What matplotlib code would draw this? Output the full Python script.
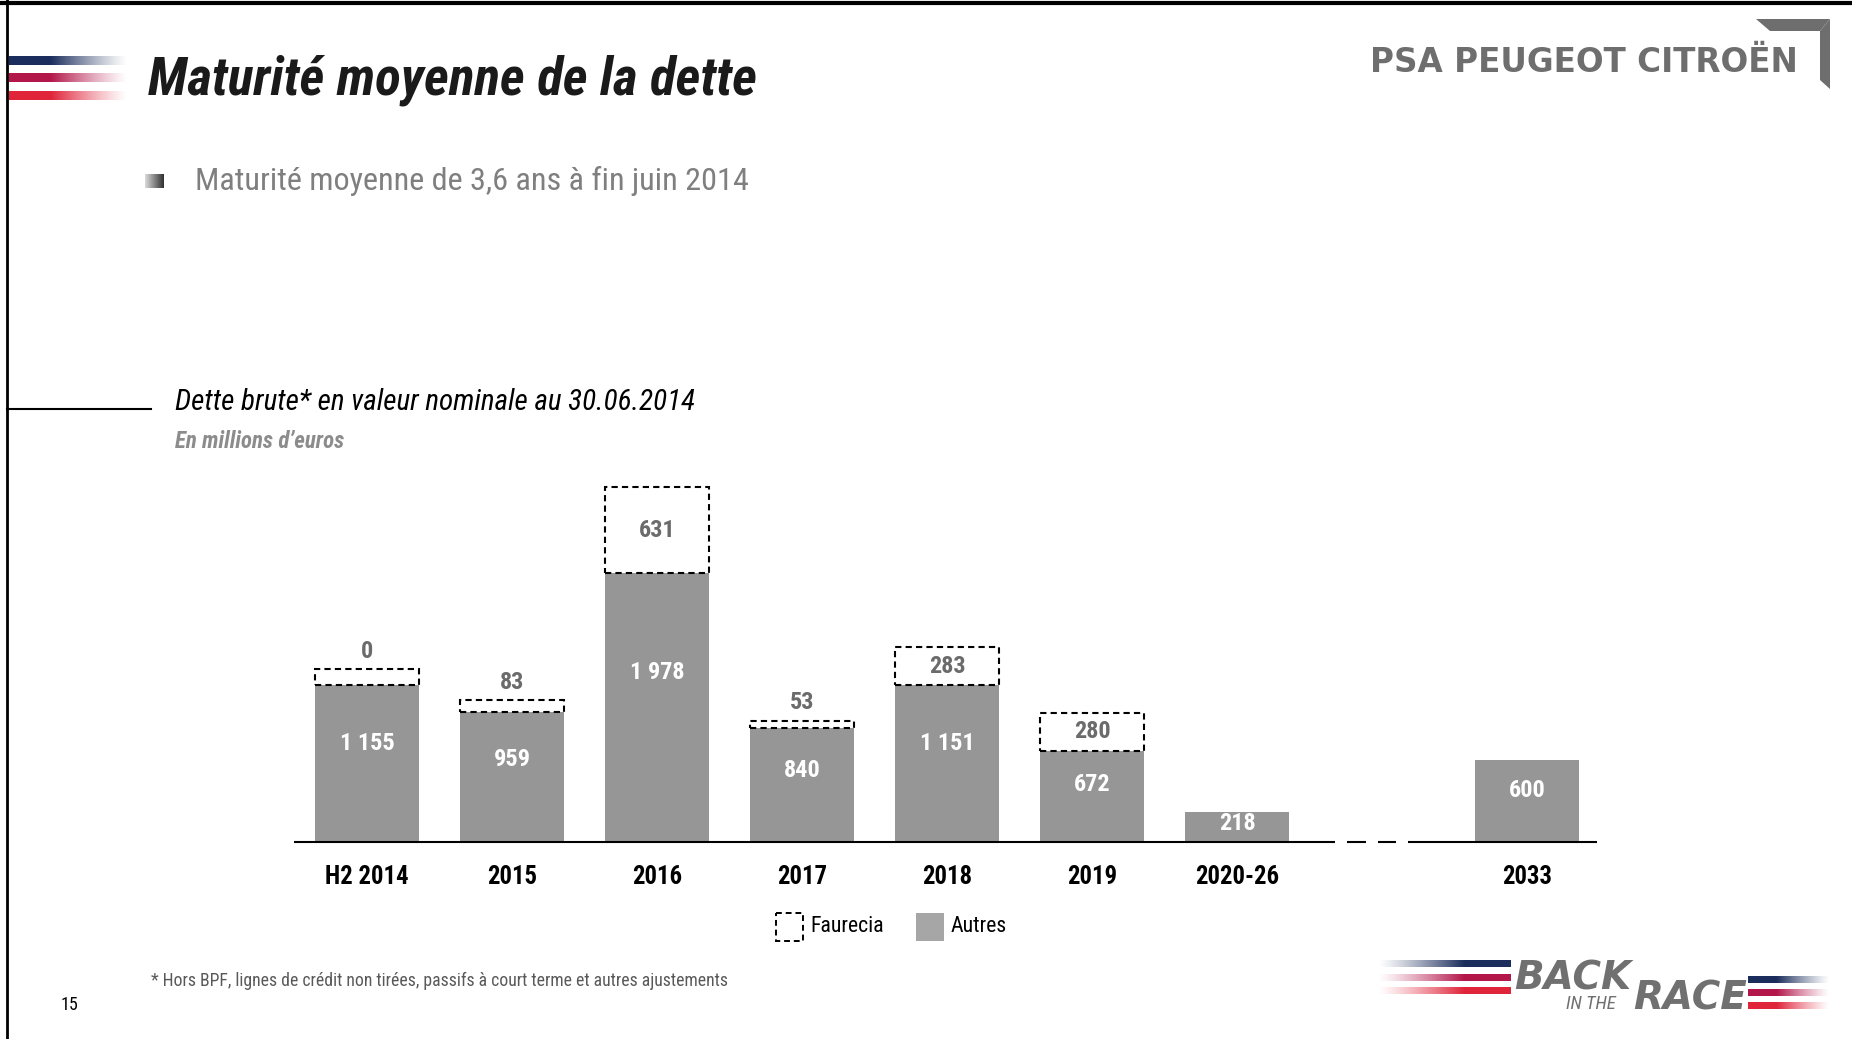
import matplotlib
matplotlib.use("Agg")
import matplotlib.pyplot as plt
import numpy as np
from matplotlib.colors import to_rgb
from matplotlib.patches import Polygon, Rectangle

NARROW = ["Roboto Condensed", "Liberation Sans Narrow", "Liberation Sans", "DejaVu Sans"]
plt.rcParams["font.family"] = NARROW

categories = ["H2 2014", "2015", "2016", "2017", "2018", "2019", "2020-26", "2033"]
autres = [1155, 959, 1978, 840, 1151, 672, 218, 600]
faurecia = [0, 83, 631, 53, 283, 280, np.nan, np.nan]

BAR_GREY = "#969696"
LABEL_GREY = "#6b6b6b"
STRIPES = ["#1a2d5c", "#b3174a", "#e0243a"]
W, H = 1852, 1039

fig = plt.figure(figsize=(W / 100, H / 100), dpi=100)

# full-page axes in pixel units for the slide decorations
bg = fig.add_axes([0, 0, 1, 1])
bg.set_xlim(0, W)
bg.set_ylim(H, 0)
bg.axis("off")


def stripe(x0, x1, y, h, color, dark_side="left"):
    r, g, b = to_rgb(color)
    t = np.linspace(0, 1, 80)
    alpha = np.clip((1 - t) / 0.65, 0, 1) ** 1.2
    if dark_side == "right":
        alpha = alpha[::-1]
    img = np.zeros((1, 80, 4))
    img[0, :, 0], img[0, :, 1], img[0, :, 2] = r, g, b
    img[0, :, 3] = alpha
    bg.imshow(img, extent=(x0, x1, y + h / 2, y - h / 2), aspect="auto",
              interpolation="bilinear", zorder=2)


# frame
bg.plot([0, W], [3, 3], color="black", lw=3)
bg.plot([7, 7], [0, H], color="black", lw=2)

# header stripes
for yy, col in zip([61, 78, 96], STRIPES):
    stripe(9, 128, yy, 9, col)

bg.text(148, 80, "Maturité moyenne de la dette", fontsize=38.5, fontweight="bold",
        fontstyle="italic", color="#1a1a1a", va="center", ha="left")

# bullet
grad = np.linspace(0.85, 0.2, 32)
bg.imshow(np.tile(grad, (2, 1)), cmap="gray", vmin=0, vmax=1,
          extent=(145, 164, 188, 174), aspect="auto", zorder=2)
bg.text(195, 181, "Maturité moyenne de 3,6 ans à fin juin 2014", fontsize=23.2,
        color="#7f7f7f", va="center", ha="left")

# PSA logo
bg.text(1798, 62, "PSA PEUGEOT CITROËN", fontsize=23.5, fontweight="bold",
        color="#6e6e6e", va="center", ha="right", family="DejaVu Sans")
bg.add_patch(Polygon([(1756, 19), (1830, 19), (1820, 31), (1770, 31)],
                     closed=True, color="#6e6e6e", lw=0))
bg.add_patch(Polygon([(1820, 31), (1830, 19), (1830, 89), (1820, 80)],
                     closed=True, color="#6e6e6e", lw=0))

# chart heading
bg.plot([7, 151], [409, 409], color="black", lw=1.5)
bg.text(175, 402, "Dette brute* en valeur nominale au 30.06.2014", fontsize=21,
        fontstyle="italic", color="black", va="center", ha="left")
bg.text(175, 442, "En millions d’euros", fontsize=16.5, fontweight="bold",
        fontstyle="italic", color="#8c8c8c", va="center", ha="left")

# legend
bg.add_patch(Rectangle((776, 913), 27, 28, facecolor="white", edgecolor="black",
                       lw=1.4, linestyle=(0, (3, 2))))
bg.text(810, 927, "Faurecia", fontsize=15.7, color="black", va="center", ha="left")
bg.add_patch(Rectangle((916, 913), 28, 28, facecolor="#a6a6a6", lw=0))
bg.text(951, 927, "Autres", fontsize=15.7, color="black", va="center", ha="left")

# footer
bg.text(151, 981, "* Hors BPF, lignes de crédit non tirées, passifs à court terme et autres ajustements",
        fontsize=12.7, color="#595959", va="center", ha="left")
bg.text(61, 1005, "15", fontsize=13, color="black", va="center", ha="left")

# Back in the race logo
for yy, col in zip([964, 978, 991], STRIPES):
    stripe(1378, 1511, yy, 7, col, dark_side="right")
for yy, col in zip([980, 993, 1006], STRIPES):
    stripe(1748, 1830, yy, 7, col)
bg.text(1514, 978, "BACK", fontsize=28, fontweight="bold", fontstyle="italic",
        color="#707070", va="center", ha="left", family="DejaVu Sans")
bg.text(1566, 1004, "IN THE", fontsize=13.5, fontstyle="italic",
        color="#707070", va="center", ha="left")
bg.text(1633, 998, "RACE", fontsize=28, fontweight="bold", fontstyle="italic",
        color="#707070", va="center", ha="left", family="DejaVu Sans")

# bar chart
x = np.arange(len(categories), dtype=float)
x[-1] += 1  # break before 2033
autres = np.array(autres, dtype=float)
faurecia = np.array(faurecia, dtype=float)

ax = fig.add_axes([294 / W, 197 / H, 1303 / W, 408 / H])
ax.set_xlim(-0.503, 8.483)
ax.set_ylim(0, 3000)
ax.axis("off")
ax.patch.set_alpha(0)

bw = 0.72
ax.bar(x, autres, width=bw, color=BAR_GREY, lw=0, zorder=2)

has_f = ~np.isnan(faurecia)
f_draw = np.where(faurecia[has_f] == 0, 115, faurecia[has_f])
ax.bar(x[has_f], f_draw, width=bw, bottom=autres[has_f], facecolor="white",
       edgecolor="black", lw=1.5, linestyle=(0, (3, 2)), zorder=3)

for xi, a in zip(x, autres):
    ax.text(xi, a * 0.63, f"{int(a):,}".replace(",", " "), fontsize=17.5,
            fontweight="bold", color="white", ha="center", va="center", zorder=4)

for xi, a, f, fd in zip(x[has_f], autres[has_f], faurecia[has_f], f_draw):
    if f >= 200:
        ax.text(xi, a + fd / 2, f"{int(f)}", fontsize=17.5, fontweight="bold",
                color=LABEL_GREY, ha="center", va="center", zorder=4)
    else:
        ax.annotate(f"{int(f)}", (xi, a + fd), xytext=(0, 13), textcoords="offset points",
                    fontsize=17.5, fontweight="bold", color=LABEL_GREY,
                    ha="center", va="center", zorder=4)

# baseline with break marks
for x0, x1 in [(-0.503, 6.676), (6.76, 6.89), (6.97, 7.10), (7.18, 8.483)]:
    ax.plot([x0, x1], [0, 0], color="black", lw=1.5, solid_capstyle="butt",
            clip_on=False, zorder=5)

for xi, cat in zip(x, categories):
    ax.annotate(cat, (xi, 0), xytext=(0, -25), textcoords="offset points",
                fontsize=17.8, fontweight="bold", color="black",
                ha="center", va="center")

fig.savefig("out.png", dpi=100)
